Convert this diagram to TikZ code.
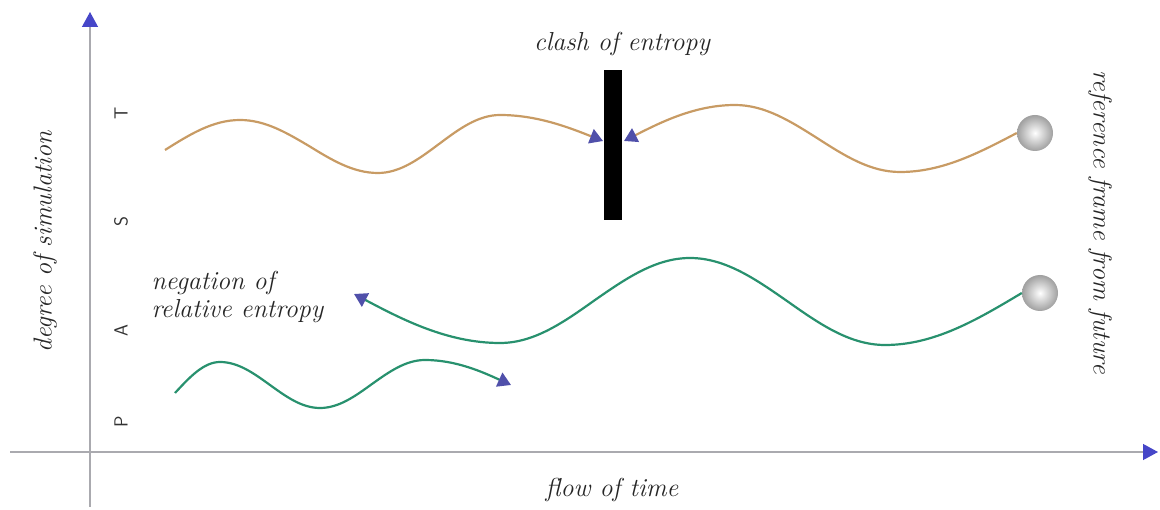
\documentclass[tikz,border=0pt]{standalone}
\usepackage{tikz}
\usetikzlibrary{arrows.meta}

\definecolor{axisgray}{RGB}{170,170,175}
\definecolor{tipblue}{RGB}{70,70,200}
\definecolor{headblue}{RGB}{80,80,170}
\definecolor{tanline}{RGB}{200,155,100}
\definecolor{greenline}{RGB}{40,145,110}

\tikzset{
  axis/.style={line width=1.3pt,axisgray,-{Triangle[tipblue,length=15pt,width=16pt]}},
  hand/.style={font=\fontsize{26}{30}\selectfont\itshape,text=black!85},
  letter/.style={font=\fontsize{19}{22}\selectfont\sffamily,text=black!80,rotate=90},
  wave/.style={line width=2.2pt},
  headR/.style={-{Triangle[headblue,length=13pt,width=15pt]}},
  headL/.style={{Triangle[headblue,length=13pt,width=15pt]}-},
  ball/.style={circle,minimum size=36pt,inner sep=0pt,shading=radial,
    inner color=white,outer color=gray!75}
}

\begin{document}
\begin{tikzpicture}[x=1pt,y=-1pt]
  \useasboundingbox (0,0) rectangle (1160,510);
  % axes
  \coordinate (yb) at (90,507);
  \coordinate (yt) at (90,12);
  \coordinate (xl) at (10,452);
  \coordinate (xr) at (1158,452);
  \draw[axis] (yb) -- (yt);
  \draw[axis] (xl) -- (xr);
  \node[hand,rotate=90] (ylab) at (45,242) {degree of simulation};
  \node[hand] (xlab) at (612,490) {flow of time};
  % P A S T
  \node[letter] (lT) at (121,113) {T};
  \node[letter] (lS) at (121,222) {S};
  \node[letter] (lA) at (121,331) {A};
  \node[letter] (lP) at (121,422) {P};
  % wall and balls
  \node[fill=black,minimum width=18pt,minimum height=150pt,inner sep=0pt] (wall) at (613,145) {};
  \node[hand] (clash) at (622,44) {clash of entropy};
  \node[ball] (ballT) at (1035,133) {};
  \node[ball] (ballA) at (1040,293) {};
  \node[hand,rotate=-90] (future) at (1100,222) {reference frame from future};
  \node[hand,align=left,anchor=north west] (neg) at (148,268) {negation of\\[-2pt]relative entropy};
  % upper tan waves
  \coordinate (t0) at (165,150);
  \coordinate (t1) at (240,120);
  \coordinate (t2) at (309,146);
  \coordinate (t3) at (378,173);
  \coordinate (t4) at (439,144);
  \coordinate (t5) at (500,115);
  \coordinate (t6) at (603,141);
  \draw[wave,tanline,headR] (t0) sin (t1) cos (t2) sin (t3) cos (t4) sin (t5) cos (t6);
  \coordinate (u0) at (624,141);
  \coordinate (u1) at (735,105);
  \coordinate (u2) at (817,138);
  \coordinate (u3) at (900,172);
  \draw[wave,tanline,headL] (u0) sin (u1) cos (u2) sin (u3) cos (ballT.west);
  % middle green wave
  \coordinate (g0) at (354,294);
  \coordinate (g1) at (500,343);
  \coordinate (g2) at (595,300);
  \coordinate (g3) at (690,258);
  \coordinate (g4) at (787,301);
  \coordinate (g5) at (885,345);
  \draw[wave,greenline,headL] (g0) sin (g1) cos (g2) sin (g3) cos (g4) sin (g5)
    cos (ballA.west);
  % lower green wave
  \coordinate (h0) at (175,393);
  \coordinate (h1) at (220,362);
  \coordinate (h2) at (270,385);
  \coordinate (h3) at (320,408);
  \coordinate (h4) at (372,384);
  \coordinate (h5) at (425,360);
  \coordinate (h6) at (511,385);
  \draw[wave,greenline,headR] (h0) sin (h1) cos (h2) sin (h3) cos (h4) sin (h5) cos (h6);
\end{tikzpicture}
\end{document}
